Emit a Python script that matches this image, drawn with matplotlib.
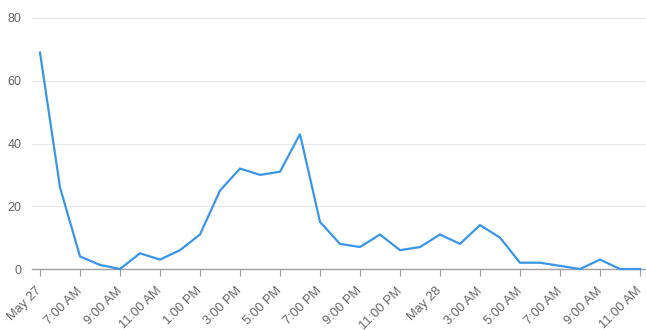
import matplotlib
matplotlib.use("Agg")
import matplotlib.pyplot as plt

hours = list(range(31))
values = [69, 26, 4, 1.3, 0, 5, 3, 6, 11, 25, 32, 30, 31, 43, 15, 8, 7, 11, 6, 7,
          11, 8, 14, 10, 2, 2, 1, 0, 3, 0, 0]
tick_hours = list(range(0, 31, 2))
tick_labels = ["May 27", "7:00 AM", "9:00 AM", "11:00 AM", "1:00 PM", "3:00 PM",
               "5:00 PM", "7:00 PM", "9:00 PM", "11:00 PM", "May 28", "3:00 AM",
               "5:00 AM", "7:00 AM", "9:00 AM", "11:00 AM"]
y_ticks = [0, 20, 40, 60, 80]

plt.rcParams['font.family'] = ['Liberation Sans', 'DejaVu Sans']
W, H = 646, 330
fig = plt.figure(figsize=(W / 100, H / 100), dpi=100)
ax = fig.add_axes([32 / W, 1 - 269 / H, (646 - 32) / W, (269 - 18) / H])

ax.plot(hours, values, color='#3996ea', lw=1.6, solid_joinstyle='miter', clip_on=False, zorder=3)
ax.set_xlim(-0.4, 30.3)
ax.set_ylim(0, 80)
ax.set_yticks(y_ticks)
ax.set_yticklabels([str(v) for v in y_ticks])
ax.set_xticks(tick_hours)
ax.set_xticklabels(tick_labels, rotation=45, ha='right', va='center', rotation_mode='anchor')

for s in ['top', 'right', 'left']:
    ax.spines[s].set_visible(False)
ax.spines['bottom'].set_color('#a0a0a0')
ax.spines['bottom'].set_linewidth(1)
ax.grid(axis='y', color='#e8e8e8', lw=0.8)
ax.set_axisbelow(True)
ax.tick_params(axis='y', length=0, pad=7.5, labelsize=9, labelcolor='#666666')
ax.tick_params(axis='x', length=5, color='#a0a0a0', pad=9.5, labelsize=9.3, labelcolor='#666666')

fig.savefig('out.png', dpi=100)
